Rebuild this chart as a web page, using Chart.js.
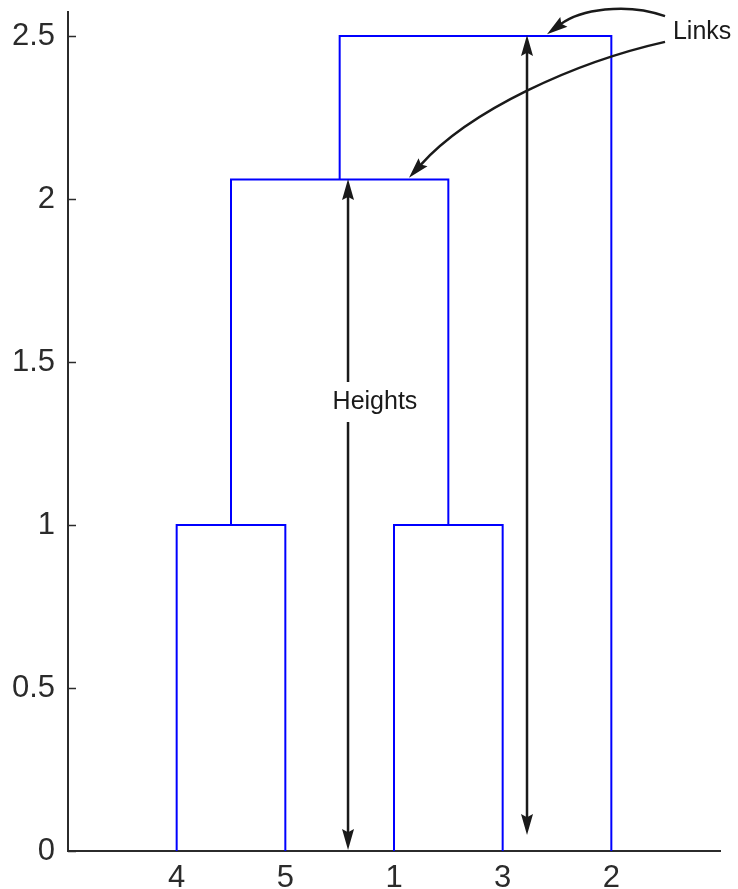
<!DOCTYPE html>
<html><head><meta charset="utf-8">
<script src="https://cdn.jsdelivr.net/npm/chart.js@4.4.0/dist/chart.umd.min.js"></script>
<style>html,body{margin:0;padding:0;background:#fff;}#wrap{width:738px;height:889px;}</style>
</head><body><div id="wrap"><canvas id="c" width="738" height="889"></canvas></div>
<script>
// ---- data ----
const leafLabels = ['4', '5', '1', '3', '2'];          // leaf order along the x axis
const linkChildren = [['4', '5'], ['1', '3'], ['L1', 'L2'], ['L3', '2']];
const linkHeights = [1, 1, 2.06, 2.5];
const yTicks = [0, 0.5, 1, 1.5, 2, 2.5];
const yTickLabels = ['0', '0.5', '1', '1.5', '2', '2.5'];

// ---- build dendrogram U-shapes ----
const nodePos = {};
leafLabels.forEach((l, i) => { nodePos[l] = { x: i + 1, h: 0 }; });
const datasets = linkChildren.map((pair, i) => {
  const a = nodePos[pair[0]], b = nodePos[pair[1]], h = linkHeights[i];
  nodePos['L' + (i + 1)] = { x: (a.x + b.x) / 2, h: h };
  return {
    data: [{ x: a.x, y: a.h }, { x: a.x, y: h }, { x: b.x, y: h }, { x: b.x, y: b.h }],
    showLine: true, borderColor: '#0000ff', borderWidth: 2, pointRadius: 0, tension: 0, fill: false
  };
});

const AXIS = '#2b2b2b';
const FONT = "'Liberation Sans', Arial, sans-serif";

// annotation geometry (data coordinates)
const ann = {
  heights: [
    { x: 2.577, y0: 0.003, y1: 2.061, gap: [1.316, 1.439] },
    { x: 4.224, y0: 0.049, y1: 2.503 }
  ],
  heightsText: { x: 2.825, y: 1.356, text: 'Heights' },
  linksText: { x: 5.567, y: 2.491, text: 'Links' },
  curves: [
    [[5.494, 2.561], [5.126, 2.604], [4.711, 2.580], [4.408, 2.505]],
    [[5.494, 2.482], [4.666, 2.420], [3.699, 2.273], [3.138, 2.065]]
  ]
};

function arrowHead(ctx, tx, ty, dx, dy, len, hw) {
  const m = Math.hypot(dx, dy); dx /= m; dy /= m;
  const px = -dy, py = dx;
  const bx = tx - dx * len, by = ty - dy * len;
  ctx.beginPath();
  ctx.moveTo(tx, ty);
  ctx.lineTo(bx + px * hw, by + py * hw);
  ctx.lineTo(tx - dx * len * 0.85, ty - dy * len * 0.85);
  ctx.lineTo(bx - px * hw, by - py * hw);
  ctx.closePath();
  ctx.fill();
}

const annPlugin = {
  id: 'ann',
  afterDraw(chart) {
    const ctx = chart.ctx, xs = chart.scales.x, ys = chart.scales.y, ca = chart.chartArea;
    const X = v => xs.getPixelForValue(v), Y = v => ys.getPixelForValue(v);
    ctx.save();
    // inward tick marks
    ctx.strokeStyle = AXIS; ctx.lineWidth = 1.5;
    yTicks.forEach(t => { const p = Math.round(Y(t)) + 0.5; ctx.beginPath(); ctx.moveTo(ca.left, p); ctx.lineTo(ca.left + 8, p); ctx.stroke(); });
    // height arrows
    ctx.strokeStyle = '#1a1a1a'; ctx.fillStyle = '#1a1a1a'; ctx.lineWidth = 2.5;
    const AL = 21, AW = 6;
    ann.heights.forEach(a => {
      const x = X(a.x), yb = Y(a.y0), yt = Y(a.y1);
      ctx.beginPath();
      if (a.gap) {
        ctx.moveTo(x, yb - AL * 0.8); ctx.lineTo(x, Y(a.gap[0]));
        ctx.moveTo(x, Y(a.gap[1])); ctx.lineTo(x, yt + AL * 0.8);
      } else {
        ctx.moveTo(x, yb - AL * 0.8); ctx.lineTo(x, yt + AL * 0.8);
      }
      ctx.stroke();
      arrowHead(ctx, x, yt, 0, -1, AL, AW);
      arrowHead(ctx, x, yb, 0, 1, AL, AW);
    });
    // curved arrows
    ann.curves.forEach(c => {
      const p = c.map(q => [X(q[0]), Y(q[1])]);
      const dx = p[3][0] - p[2][0], dy = p[3][1] - p[2][1];
      const m = Math.hypot(dx, dy);
      const ex = p[3][0] - dx / m * AL * 0.8, ey = p[3][1] - dy / m * AL * 0.8;
      ctx.beginPath();
      ctx.moveTo(p[0][0], p[0][1]);
      ctx.bezierCurveTo(p[1][0], p[1][1], p[2][0], p[2][1], ex, ey);
      ctx.stroke();
      arrowHead(ctx, p[3][0], p[3][1], dx, dy, AL, AW);
    });
    // texts
    ctx.fillStyle = '#1a1a1a';
    ctx.font = '25px ' + FONT;
    ctx.textBaseline = 'alphabetic';
    ctx.textAlign = 'center';
    ctx.fillText(ann.heightsText.text, X(ann.heightsText.x), Y(ann.heightsText.y));
    ctx.textAlign = 'left';
    ctx.fillText(ann.linksText.text, X(ann.linksText.x), Y(ann.linksText.y));
    ctx.restore();
  }
};

new Chart(document.getElementById('c'), {
  type: 'scatter',
  data: { datasets: datasets },
  options: {
    responsive: false, animation: false,
    layout: { padding: { top: 12, right: 18, left: 0, bottom: 0 } },
    plugins: { legend: { display: false }, tooltip: { enabled: false } },
    scales: {
      x: {
        type: 'linear', min: 0, max: leafLabels.length + 1,
        afterBuildTicks: s => { s.ticks = leafLabels.map((l, i) => ({ value: i + 1 })); },
        afterFit: s => { s.height = 38; s.paddingLeft = 0; s.paddingRight = 0; },
        ticks: { callback: v => leafLabels[v - 1], font: { size: 31, family: FONT }, color: AXIS, padding: 9, maxRotation: 0, autoSkip: false },
        grid: { drawOnChartArea: false, drawTicks: false },
        border: { display: true, color: AXIS, width: 2 }
      },
      y: {
        type: 'linear', min: 0, max: 2.5736,
        afterBuildTicks: s => { s.ticks = yTicks.map(v => ({ value: v })); },
        afterFit: s => { s.width = 68; s.paddingTop = 0; s.paddingBottom = 0; },
        ticks: { callback: (v, i) => yTickLabels[i], font: { size: 31, family: FONT }, color: AXIS, padding: 13 },
        grid: { drawOnChartArea: false, drawTicks: false },
        border: { display: true, color: AXIS, width: 2 }
      }
    }
  },
  plugins: [annPlugin]
});
</script></body></html>
